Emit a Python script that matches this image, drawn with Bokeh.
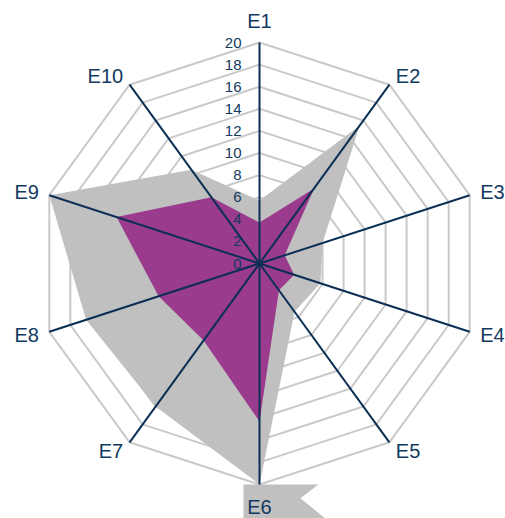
import numpy as np
from bokeh.plotting import figure
from bokeh.models import ColumnDataSource, Range1d
from bokeh.core.properties import value
from bokeh.embed import file_html
from bokeh.resources import INLINE

# ---- data ----
categories = ["E1", "E2", "E3", "E4", "E5", "E6", "E7", "E8", "E9", "E10"]
gray_values = [5.7, 15.4, 6.0, 5.8, 5.4, 23.1, 16.0, 16.5, 20.0, 10.5]
purple_values = [3.7, 8.4, 2.4, 3.3, 3.0, 14.3, 8.6, 9.6, 13.6, 7.4]
tick_values = [0, 2, 4, 6, 8, 10, 12, 14, 16, 18, 20]
tick_labels = ["0", "2", "4", "6", "8", "10", "12", "14", "16", "18", "20"]
axis_max = 20

# ---- style / layout ----
W, H = 505, 518
K = 221.0 / axis_max          # pixels per value unit
CX, CY = 259, 263             # centre in frame pixels
GRAY = "#c0c0c0"
PURPLE = "#9a3b8e"
NAVY = "#0b2f54"
TEXT = "#123a5f"
GRID = "#c9c9c9"
FONT = value("Liberation Sans")

n = len(categories)
ang = np.deg2rad(90 - 36 * np.arange(n))
cs, sn = np.cos(ang), np.sin(ang)

p = figure(width=W, height=H, output_backend="svg", toolbar_location=None,
           x_range=Range1d(-CX / K, (W - CX) / K),
           y_range=Range1d(-(H - CY) / K, CY / K),
           min_border=0, background_fill_color="white",
           border_fill_color="white", outline_line_color=None)
p.axis.visible = False
p.grid.visible = False

# grid decagons
gx, gy = [], []
for t in tick_values[1:]:
    gx.append(list(t * cs) + [t * cs[0]])
    gy.append(list(t * sn) + [t * sn[0]])
p.multi_line(gx, gy, line_color=GRID, line_width=2)

# gray series (clamped to axis max) and overflow flag at the clipped point
gv = np.minimum(np.array(gray_values), axis_max)
p.patch(gv * cs, gv * sn, fill_color=GRAY, line_color=None)
over_i = int(np.argmax(gray_values))
ov = gray_values[over_i]
if ov > axis_max:
    bx, by = axis_max * cs[over_i], axis_max * sn[over_i]
    fl, fr, fn, fb = 16 / K, 59 / K, 41 / K, 66 / K
    fx = [bx - fl, bx + fr, bx + fn, bx + fb, bx - fl]
    fy = [by, by, by - (ov - axis_max) * 0.4, by - (ov - axis_max), by - (ov - axis_max)]
    p.patch(fx, fy, fill_color=GRAY, line_color=None)

# purple series
pv = np.array(purple_values)
p.patch(pv * cs, pv * sn, fill_color=PURPLE, line_color=None)

# spokes
p.segment(x0=np.zeros(n), y0=np.zeros(n), x1=axis_max * cs, y1=axis_max * sn,
          line_color=NAVY, line_width=2)
p.scatter([0], [0], size=6, fill_color=NAVY, line_color=None)

# radial tick labels
p.text(x=np.zeros(len(tick_values)), y=tick_values, text=tick_labels,
       x_offset=-18, y_offset=0, text_align="right", text_baseline="middle",
       text_font=FONT, text_font_size="15px", text_color=TEXT)

# category labels
lx, ly, la, xo, yo = [], [], [], [], []
for i in range(n):
    x, y = axis_max * cs[i], axis_max * sn[i]
    lx.append(x); ly.append(y)
    if abs(cs[i]) < 1e-6:
        la.append("center")
        xo.append(0)
        yo.append(-22 if sn[i] > 0 else 22)
    else:
        la.append("left" if cs[i] > 0 else "right")
        xo.append(11 * cs[i])
        yo.append(-11 * sn[i])
src = ColumnDataSource(dict(x=lx, y=ly, t=categories, a=la, xo=xo, yo=yo))
p.text(x="x", y="y", text="t", text_align="a", x_offset="xo", y_offset="yo",
       text_baseline="middle", text_font=FONT, text_font_size="20px",
       text_color=TEXT, source=src)

open("out.html", "w").write(file_html(p, INLINE))
